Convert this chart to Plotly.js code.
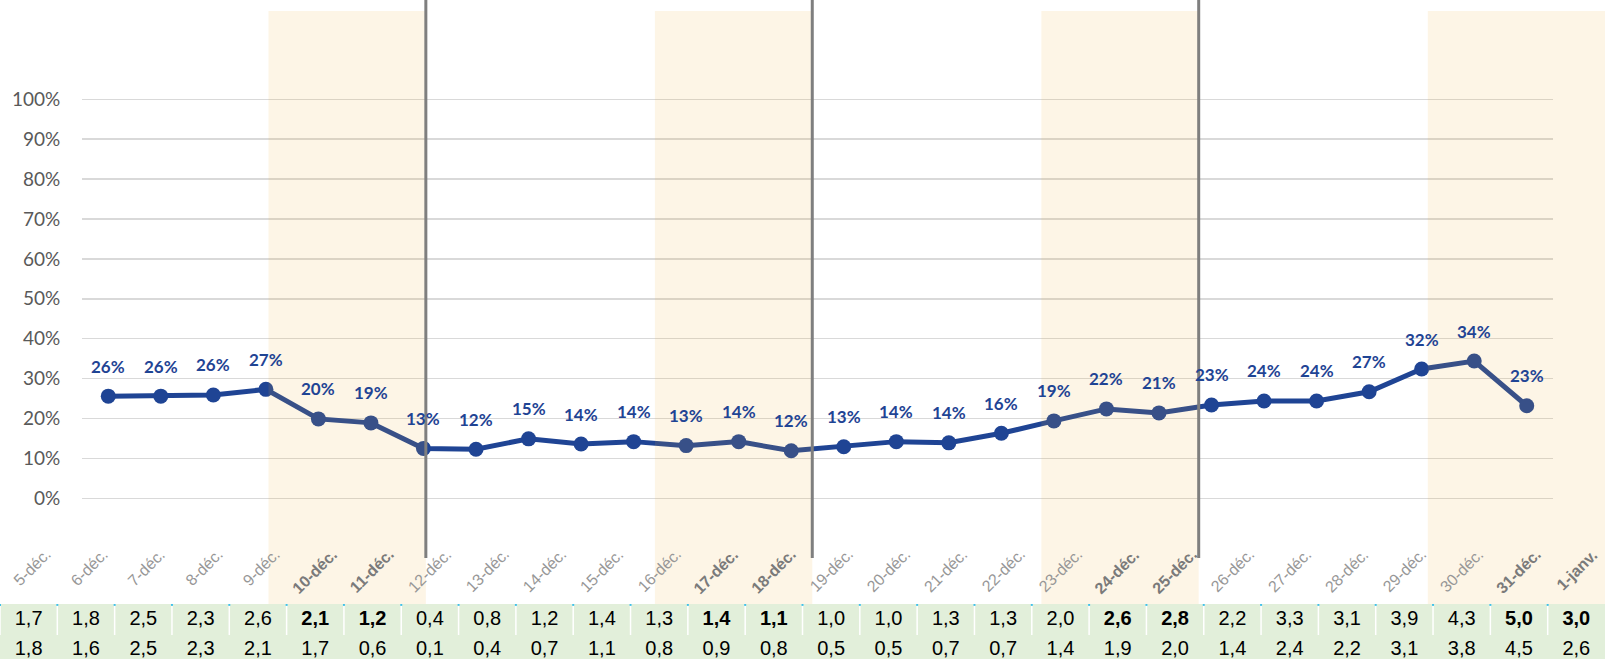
<!DOCTYPE html>
<html>
<head>
<meta charset="utf-8">
<script src="https://cdn.plot.ly/plotly-3.0.1.min.js"></script>
<style>html,body{margin:0;padding:0;background:#fff;}#chart{width:1605px;height:659px;}</style>
</head>
<body>
<div id="chart"></div>
<script>
// ---- data ----
const categories = ['5-déc.','6-déc.','7-déc.','8-déc.','9-déc.','10-déc.','11-déc.','12-déc.','13-déc.','14-déc.',
  '15-déc.','16-déc.','17-déc.','18-déc.','19-déc.','20-déc.','21-déc.','22-déc.','23-déc.','24-déc.',
  '25-déc.','26-déc.','27-déc.','28-déc.','29-déc.','30-déc.','31-déc.','1-janv.'];
const sharePct = [25.6,25.6,25.9,27.3,19.9,18.9,12.5,12.3,14.9,13.6,14.2,13.2,14.2,11.9,12.9,14.2,13.9,16.3,
  19.4,22.4,21.4,23.4,24.4,24.4,26.7,32.4,34.4,23.2];
const row1 = [1.7,1.8,2.5,2.3,2.6,2.1,1.2,0.4,0.8,1.2,1.4,1.3,1.4,1.1,1.0,1.0,1.3,1.3,2.0,2.6,2.8,2.2,3.3,3.1,3.9,4.3,5.0,3.0];
const row2 = [1.8,1.6,2.5,2.3,2.1,1.7,0.6,0.1,0.4,0.7,1.1,0.8,0.9,0.8,0.5,0.5,0.7,0.7,1.4,1.9,2.0,1.4,2.4,2.2,3.1,3.8,4.5,2.6];
const weekend = [0,0,0,0,0,1,1,0,0,0,0,0,1,1,0,0,0,0,0,1,1,0,0,0,0,0,1,1];
const yTickVals = [0,10,20,30,40,50,60,70,80,90,100];
const yTickText = yTickVals.map(v => v + '%');

// ---- styles ----
const BLUE = '#1F4494';
const fmt = v => v.toFixed(1).replace('.', ',');
const idx = categories.map((_, i) => i);

const traces = [
  { // main line
    x: idx, y: sharePct, xaxis: 'x2', yaxis: 'y', type: 'scatter', mode: 'lines+markers',
    line: {color: BLUE, width: 5}, marker: {color: BLUE, size: 15}, hoverinfo: 'skip', cliponaxis: false
  },
  { // table row 1
    x: categories, y: categories.map(() => 1), xaxis: 'x4', yaxis: 'y2', type: 'scatter', mode: 'text',
    text: row1.map((v, i) => weekend[i] ? '<b>' + fmt(v) + '</b>' : fmt(v)),
    textposition: 'middle center', cliponaxis: false,
    textfont: {family: 'Liberation Sans, Arial, sans-serif', size: 20, color: '#000'}, hoverinfo: 'skip'
  },
  { // table row 2
    x: categories, y: categories.map(() => 0), xaxis: 'x4', yaxis: 'y2', type: 'scatter', mode: 'text',
    text: row2.map(fmt), textposition: 'middle center', cliponaxis: false,
    textfont: {family: 'Liberation Sans, Arial, sans-serif', size: 20, color: '#000'}, hoverinfo: 'skip'
  }
];

// data labels
const annotations = sharePct.map((v, i) => ({
  x: i, y: v, xref: 'x2', yref: 'y', text: '<b>' + Math.round(v) + '%</b>', showarrow: false,
  yshift: 30, font: {family: 'Lato, sans-serif', size: 17, color: BLUE}
}));
// rotated date labels, top-right end at the right edge of each table column
categories.forEach((c, i) => {
  annotations.push({
    x: i + 0.48, y: 1 - 543 / 659, xref: 'x4', yref: 'paper', showarrow: false,
    text: weekend[i] ? '<b>' + c + '</b>' : c, textangle: -45, xanchor: 'right', yanchor: 'top',
    font: {family: 'Liberation Sans, Arial, sans-serif', size: 16, color: weekend[i] ? '#7a7a7a' : '#979797'}
  });
});

// decorations
const shapes = [];
shapes.push({type: 'rect', xref: 'paper', yref: 'y2 domain', x0: 0, x1: 1, y0: 0, y1: 1,
  fillcolor: '#E2EFDA', line: {width: 0}, layer: 'below'});
for (let i = 0; i < categories.length; i++) {
  shapes.push({type: 'line', xref: 'x4', yref: 'y2', x0: i - 0.5, x1: i - 0.5, y0: 0.5, y1: 1.533,
    line: {color: '#ffffff', width: 1.5}, layer: 'above'});
  shapes.push({type: 'line', xref: 'x4', yref: 'y2', x0: i - 0.5, x1: i - 0.5, y0: 1.47, y1: 1.533,
    line: {color: '#3FC0E8', width: 2}, layer: 'above'});
}
const last = categories.length - 1;
for (let i = 0; i < categories.length - 1; i++) {
  if (weekend[i] && weekend[i + 1]) {
    const endDay = (i + 1 === last) ? 27.86 : i + 1.5;
    shapes.push({type: 'rect', xref: 'x3', yref: 'paper', x0: i - 1.35, x1: endDay,
      y0: 55 / 659, y1: 1 - 11 / 659, fillcolor: 'rgba(235,175,50,0.12)', line: {width: 0}, layer: 'above'});
    if (i + 1 !== last) {
      shapes.push({type: 'line', xref: 'x3', yref: 'paper', x0: i + 1.5, x1: i + 1.5,
        y0: (659 - 558) / 659, y1: 1, line: {color: '#7F7F7F', width: 3}, layer: 'above'});
    }
  }
}

const layout = {
  width: 1605, height: 659,
  margin: {l: 0, r: 0, t: 0, b: 0},
  paper_bgcolor: '#ffffff', plot_bgcolor: 'rgba(0,0,0,0)',
  showlegend: false,
  xaxis4: {type: 'category', domain: [0, 1], range: [-0.5, 27.5], anchor: 'y2', visible: false},
  yaxis2: {domain: [0, 55 / 659], range: [-0.3, 1.533], anchor: 'x4', visible: false},
  xaxis2: {domain: [82 / 1605, 1553 / 1605], range: [-0.5, 27.5], anchor: 'y', visible: false},
  yaxis: {domain: [55 / 659, 1], range: [-26.5, 124.9], anchor: 'x2', tickmode: 'array',
    tickvals: yTickVals, ticktext: yTickText, showgrid: true, gridcolor: '#D9D9D9', gridwidth: 1.5,
    zeroline: false, showline: false, ticks: 'outside', ticklen: 17, tickcolor: 'rgba(0,0,0,0)',
    tickfont: {family: 'Lato, sans-serif', size: 19, color: '#595959'}},
  xaxis3: {domain: [0, 1], range: [-1.214, 27.86], anchor: 'y2', visible: false},
  annotations: annotations,
  shapes: shapes
};

Plotly.newPlot('chart', traces, layout, {displayModeBar: false, staticPlot: true});
</script>
</body>
</html>
